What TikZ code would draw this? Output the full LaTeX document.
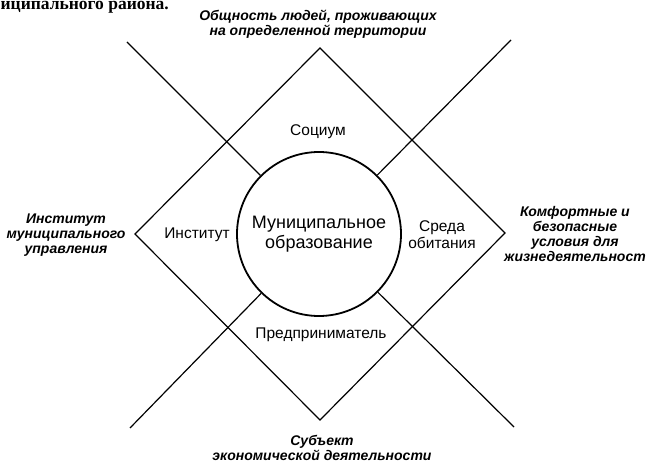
\documentclass[tikz,border=0pt]{standalone}
\usepackage{fontspec}
\setmainfont{Liberation Sans}
\newfontfamily\bookfont{Liberation Serif}
\tikzset{
  rolelabel/.style={font=\fontsize{15.5}{17}\selectfont, align=center, inner sep=0pt},
  goallabel/.style={align=center, inner sep=0pt, font=\fontsize{14}{15}\selectfont\bfseries\itshape},
  corecircle/.style={circle, draw, line width=1.8pt, minimum size=164pt, inner sep=0pt,
    align=center, font=\fontsize{18}{20}\selectfont},
}
\begin{document}
\begin{tikzpicture}[x=1pt,y=-1pt,line width=1.2pt]
\useasboundingbox (0,0) rectangle (646,465);

% Textrest oben
\node[anchor=base west, inner sep=0pt, font=\bookfont\bfseries\fontsize{17.5}{18}\selectfont] (frag) at (0,9.5) {иципального района.};

% Raute
\coordinate (dtop) at (320,48);
\coordinate (dright) at (505,233);
\coordinate (dbottom) at (320,420);
\coordinate (dleft) at (135,234);
\draw (dtop) -- (dright) -- (dbottom) -- (dleft) -- cycle;

% Kreis
\node[corecircle] (mo) at (319,234) {Муниципальное\\образование};

% Diagonalen
\coordinate (xtl) at (127,42);
\coordinate (xtr) at (511,40);
\coordinate (xbl) at (130,428);
\coordinate (xbr) at (514,427);
\draw (xtl) -- (mo);
\draw (xtr) -- (mo);
\draw (xbl) -- (mo);
\draw (xbr) -- (mo);

% Felder in der Raute
\node[rolelabel] (socium) at (318,132) {Социум};
\node[rolelabel] (institut) at (197,235) {Институт};
\node[rolelabel] (sreda) at (442,235) {Среда\\обитания};
\node[rolelabel] (predpr) at (321,335) {Предприниматель};

% Beschriftungen aussen
\node[goallabel] (obsh) at (318,24) {Общность людей, проживающих\\на определенной территории};
\node[goallabel] (upr) at (66,235) {Институт\\муниципального\\управления};
\node[goallabel] (usl) at (575,234) {Комфортные и\\безопасные\\условия для\\жизнедеятельност};
\node[goallabel] (subj) at (322,448) {Субъект\\экономической деятельности};

\end{tikzpicture}
\end{document}
